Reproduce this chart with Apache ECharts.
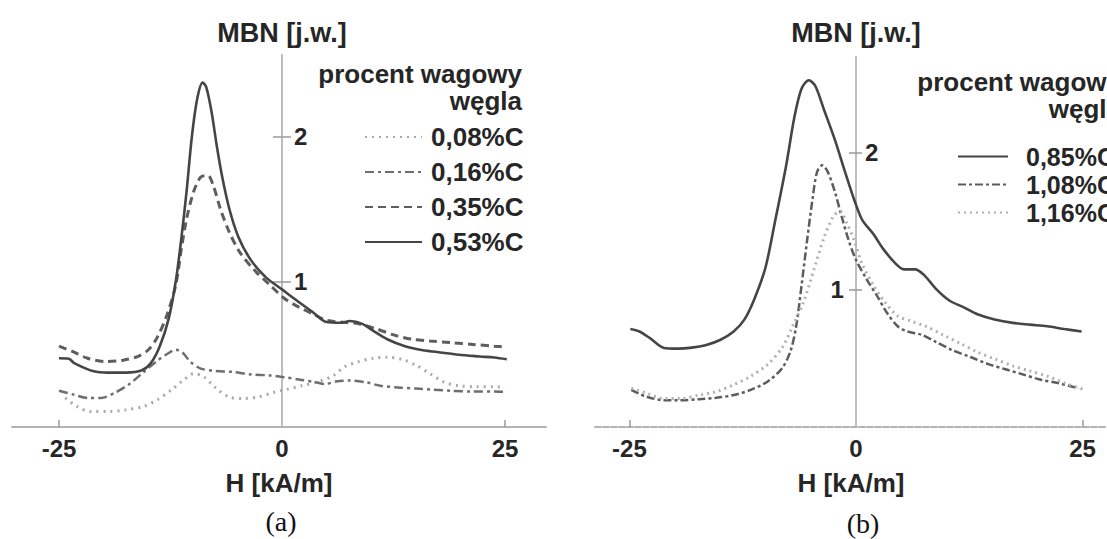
<!DOCTYPE html>
<html><head><meta charset="utf-8">
<script src="https://cdn.jsdelivr.net/npm/echarts@6/dist/echarts.min.js"></script>
<style>html,body{margin:0;padding:0;background:#fff}#c{width:1107px;height:539px}</style>
</head><body><div id="c"></div>
<script>
// ---- data ----
const xTickLabels = [-25, 0, 25];
const xTickMarks = [-25, 25];
const yTicks = [1, 2];

const namesA = ['0,08%C', '0,16%C', '0,35%C', '0,53%C'];
const namesB = ['0,85%C', '1,08%C', '1,16%C'];

// panel (a)
const hA008 = [-24.3,-23,-21.5,-19.5,-17.5,-15.5,-13.9,-12.3,-11.1,-9.9,-8.7,-7.5,-5.9,-4.3,-2.7,-1.0,0.6,2.2,4.2,5.8,7,8.6,10.2,11.8,13.4,15,16.6,18.2,19.8,21.8,23.8,25];
const mA008 = [0.20,0.142,0.107,0.107,0.118,0.142,0.19,0.26,0.32,0.367,0.343,0.272,0.206,0.196,0.206,0.237,0.26,0.284,0.315,0.355,0.414,0.45,0.473,0.48,0.466,0.426,0.367,0.308,0.284,0.277,0.277,0.272];

const hA016 = [-25,-23.5,-21.8,-20.3,-18.7,-17.1,-15.5,-13.9,-12.7,-11.9,-11.1,-10.3,-9.1,-7.5,-5.5,-3.5,-1.4,0.2,2.2,3.8,4.8,6.2,7.6,9.4,11,13,15,17,19,21.4,23.8,25];
const mA016 = [0.249,0.225,0.20,0.20,0.237,0.296,0.379,0.46,0.509,0.532,0.509,0.45,0.402,0.386,0.379,0.362,0.355,0.343,0.324,0.308,0.296,0.315,0.32,0.308,0.284,0.272,0.265,0.256,0.249,0.244,0.244,0.241];

const hA035 = [-25,-23.5,-21.8,-19.8,-17.8,-16.2,-15,-14,-12.9,-11.9,-11.3,-10.7,-9.9,-9.1,-8.3,-7.7,-6.9,-5.9,-4.7,-3.1,-1.4,0.2,1.8,3.4,5.0,7,8.6,10.6,12.6,14.6,16.6,19,21.4,23.8,25.2];
const mA035 = [0.556,0.52,0.473,0.45,0.46,0.485,0.53,0.615,0.77,0.98,1.22,1.43,1.62,1.72,1.73,1.66,1.50,1.34,1.20,1.08,0.98,0.888,0.828,0.78,0.734,0.72,0.71,0.675,0.632,0.604,0.592,0.58,0.568,0.556,0.55];

const hA053 = [-25,-23.9,-23.3,-21.1,-19.5,-17.5,-15.7,-14.7,-13.7,-12.7,-11.9,-11.3,-10.7,-10.1,-9.5,-8.9,-8.5,-7.9,-7.3,-6.7,-5.9,-4.9,-3.5,-1.8,0,1.8,3.4,5.0,6.6,7.6,9.0,10.2,11.8,13.8,15.8,17.4,19.8,22.2,23.8,25.2];
const mA053 = [0.473,0.47,0.44,0.383,0.374,0.374,0.39,0.44,0.556,0.746,1.006,1.29,1.62,2.0,2.26,2.37,2.34,2.17,1.93,1.72,1.50,1.31,1.15,1.03,0.947,0.864,0.793,0.722,0.717,0.729,0.71,0.663,0.604,0.556,0.528,0.516,0.497,0.485,0.478,0.466];

// panel (b)
const hB085 = [-24.9,-23.9,-22.7,-21.2,-19.7,-18.1,-16.6,-15.0,-13.5,-12.3,-11.2,-10.0,-8.9,-7.7,-6.8,-6.0,-5.2,-4.5,-3.5,-2.3,-1.2,-0.1,0.7,1.9,3.0,4.4,5.3,6.5,7.5,8.8,10.3,11.9,13.4,15.3,17.3,19.2,21.1,23.0,24.9];
const mB085 = [0.715,0.697,0.647,0.577,0.572,0.579,0.597,0.635,0.697,0.785,0.936,1.16,1.51,1.91,2.26,2.47,2.53,2.49,2.31,2.09,1.86,1.64,1.51,1.41,1.30,1.19,1.15,1.15,1.11,1.01,0.923,0.873,0.823,0.785,0.76,0.747,0.735,0.715,0.697];

const hB108 = [-24.8,-23.1,-21.2,-19.3,-17.3,-15.4,-13.5,-11.6,-9.7,-8.1,-7.2,-6.6,-6.0,-5.4,-4.8,-4.3,-3.7,-3.1,-2.3,-1.6,-0.8,0,1.1,2.3,3.4,4.6,5.7,7.3,8.8,10.7,12.7,14.6,16.5,18.4,20.3,22.3,23.8,24.6];
const mB108 = [0.271,0.221,0.196,0.196,0.203,0.213,0.233,0.271,0.334,0.434,0.559,0.735,1.036,1.36,1.66,1.86,1.91,1.86,1.71,1.54,1.36,1.22,1.086,0.96,0.835,0.735,0.697,0.672,0.622,0.559,0.509,0.459,0.421,0.384,0.346,0.321,0.296,0.283];

const hB116 = [-24.8,-23.1,-21.2,-19.3,-17.3,-15.4,-13.5,-11.6,-9.7,-8.1,-7.0,-5.8,-4.7,-3.5,-2.5,-1.8,-1.0,-0.2,0.7,1.9,3.2,4.6,6.1,7.7,9.6,11.5,13.4,15.3,17.3,19.2,21.1,23.0,25.0];
const mB116 = [0.283,0.246,0.208,0.208,0.233,0.258,0.308,0.371,0.459,0.584,0.735,0.91,1.136,1.387,1.537,1.575,1.487,1.36,1.186,1.036,0.91,0.81,0.772,0.735,0.672,0.61,0.547,0.497,0.446,0.409,0.371,0.321,0.276];

// ---- layout (pixels) ----
const FONT = '"Liberation Sans", Arial, Helvetica, sans-serif';
const TXT = '#262626';
const PA = { left: 12, width: 534, top: 55, height: 372, xMin: -30.27, xMax: 29.6, yMax: 2.56 };
const PB = { left: 595, width: 512, top: 57, height: 370, xMin: -28.8, xMax: 27.7, yMax: 2.7 };
// x pixel of H = 0 inside each plot, where the vertical axis is drawn
const zeroX = (p) => p.left + (0 - p.xMin) / (p.xMax - p.xMin) * p.width;

const pairs = (h, m) => h.map((x, i) => [x, m[i]]);
const boldTxt = (size) => ({ fontSize: size, fontWeight: 'bold', color: TXT, fontFamily: FONT });

function mainX(grid, p, lineType) {
  return {
    type: 'value', gridIndex: grid, min: p.xMin, max: p.xMax,
    axisLine: { show: true, onZero: false, lineStyle: { color: '#b3b3b3', width: 2, type: lineType } },
    axisTick: { show: true, customValues: xTickMarks, inside: true, length: 7, lineStyle: { color: '#9a9a9a', width: 1.5 } },
    axisLabel: Object.assign({ customValues: xTickLabels, margin: 9 }, boldTxt(24)),
    splitLine: { show: false },
    name: 'H [kA/m]', nameLocation: 'middle', nameGap: 43, nameTextStyle: boldTxt(26)
  };
}
function hiddenX(grid) {
  return { type: 'value', gridIndex: grid, min: 0, max: 1, show: false };
}
function hiddenY(grid, p) {
  return { type: 'value', gridIndex: grid, min: 0, max: p.yMax, show: false };
}
// vertical axis grids: inside = labels/ticks on the right side of the line
function vAxis(grid, p, labels, inside, tickLen, margin, name, nameGap) {
  const ax = {
    type: 'value', gridIndex: grid, position: 'left', min: 0, max: p.yMax,
    axisLine: { show: true, onZero: false, lineStyle: { color: '#bdbdbd', width: 2 } },
    axisTick: { show: true, inside: inside, customValues: yTicks, length: tickLen, lineStyle: { color: '#9a9a9a', width: 1.5 } },
    axisLabel: labels.length ? Object.assign({ inside: inside, customValues: labels, margin: margin }, boldTxt(24)) : { show: false },
    splitLine: { show: false }
  };
  if (name) { ax.name = name; ax.nameLocation = 'end'; ax.nameGap = nameGap; ax.nameTextStyle = boldTxt(27); }
  return ax;
}
function line(name, data, color, width, type) {
  return { name: name, type: 'line', xAxisIndex: 0, yAxisIndex: 0, data: data, symbol: 'none',
    smooth: 0.3, lineStyle: { color: color, width: width, type: type }, itemStyle: { color: color }, silent: true };
}
function lineB(name, data, color, width, type) {
  const s = line(name, data, color, width, type); s.xAxisIndex = 1; s.yAxisIndex = 1; return s;
}
const gridOf = (p, extra) => Object.assign({ top: p.top, height: p.height, outerBoundsMode: 'none', containLabel: false }, extra);
const headStyle = (align) => ({ align: align, verticalAlign: 'middle', lineHeight: 27, fontSize: 26, fontWeight: 'bold', fontFamily: FONT, fill: TXT });

const option = {
  animation: false,
  backgroundColor: '#fff',
  grid: [
    gridOf(PA, { left: PA.left, width: PA.width }),
    gridOf(PB, { left: PB.left, width: PB.width }),
    gridOf(PA, { left: zeroX(PA), width: 20 }),
    gridOf(PB, { left: zeroX(PB), width: 20 })
  ],
  xAxis: [ mainX(0, PA, 'solid'), mainX(1, PB, [6, 2]), hiddenX(2), hiddenX(3) ],
  yAxis: [
    hiddenY(0, PA), hiddenY(1, PB),
    vAxis(2, PA, yTicks, true, 9, 12, 'MBN [j.w.]', 9),
    vAxis(2, PA, [], false, 9, 0),
    vAxis(3, PB, [2], true, 6, 9, 'MBN [j.w.]', 11),
    vAxis(3, PB, [1], false, 7, 12)
  ],
  legend: [
    { orient: 'vertical', left: 364, top: 124, padding: 0, itemWidth: 57, itemHeight: 14, itemGap: 9,
      data: namesA, selectedMode: false, itemStyle: { opacity: 0 },
      textStyle: Object.assign({ padding: [0, 0, 0, 4] }, boldTxt(26)) },
    { orient: 'vertical', left: 957, top: 144, padding: 0, itemWidth: 50, itemHeight: 14, itemGap: 3,
      data: namesB, selectedMode: false, itemStyle: { opacity: 0 },
      textStyle: Object.assign({ padding: [0, 0, 0, 13] }, boldTxt(25)) }
  ],
  graphic: [
    { type: 'text', x: 522, y: 87, style: Object.assign({ text: 'procent wagowy\nwęgla' }, headStyle('right')) },
    { type: 'text', x: 1121, y: 95, style: Object.assign({ text: 'procent wagowy\nwęgla' }, headStyle('right')) },
    { type: 'text', x: 281, y: 521, style: { text: '(a)', align: 'center', verticalAlign: 'middle', fontSize: 28, fontFamily: '"Liberation Serif", "Times New Roman", serif', fill: '#111' } },
    { type: 'text', x: 863, y: 523, style: { text: '(b)', align: 'center', verticalAlign: 'middle', fontSize: 28, fontFamily: '"Liberation Serif", "Times New Roman", serif', fill: '#111' } }
  ],
  series: [
    line(namesA[0], pairs(hA008, mA008), '#a9a9a9', 3, [2, 5]),
    line(namesA[1], pairs(hA016, mA016), '#6e6e6e', 2.5, [9, 4, 3, 4]),
    line(namesA[2], pairs(hA035, mA035), '#5e5e5e', 3, [8, 5]),
    line(namesA[3], pairs(hA053, mA053), '#454545', 2.6, 'solid'),
    lineB(namesB[0], pairs(hB085, mB085), '#454545', 2.6, 'solid'),
    lineB(namesB[1], pairs(hB108, mB108), '#5c5c5c', 2.5, [8, 3, 3, 3]),
    lineB(namesB[2], pairs(hB116, mB116), '#b0b0b0', 3, [2, 4])
  ]
};
const chart = echarts.init(document.getElementById('c'), null, { renderer: 'svg' });
chart.setOption(option);
</script></body></html>
